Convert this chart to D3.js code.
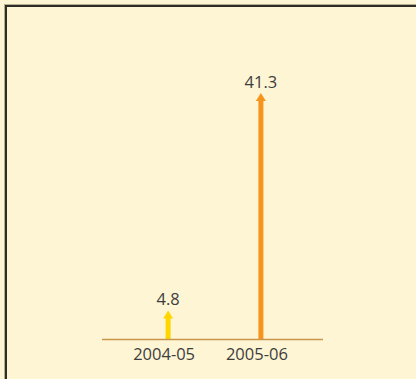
<!DOCTYPE html>
<html>
<head>
<meta charset="utf-8">
<script src="https://cdn.jsdelivr.net/npm/d3@7"></script>
<style>
  html, body { margin: 0; padding: 0; background: #fef5d4; }
  svg { display: block; }
</style>
</head>
<body>
<svg id="chart" width="416" height="379"></svg>
<script>
// Values per year
const categories = ["2004-05", "2005-06"];
const values = [4.8, 41.3];
const colors = ["#ffd600", "#f7941d"];

const W = 416, H = 379;
const svg = d3.select("#chart");

svg.append("rect").attr("width", W).attr("height", H).attr("fill", "#fef5d4");

// Framed panel: soft outer line plus dark inner line
svg.append("rect")
  .attr("x", 4.5).attr("y", 4.5).attr("width", W + 10).attr("height", H + 10)
  .attr("fill", "none").attr("stroke", "#b5ad90").attr("stroke-width", 1);
svg.append("rect")
  .attr("x", 6).attr("y", 6).attr("width", W + 10).attr("height", H + 10)
  .attr("fill", "none").attr("stroke", "#2e2c26").attr("stroke-width", 2);

const baseY = 339;
const axisX0 = 102, axisX1 = 323;

const x = d3.scalePoint().domain(categories).range([105, 324]).padding(0.68);
const y = d3.scaleLinear().domain([0, 41.3]).range([baseY, 93]);

const font = "'Open Sans', 'DejaVu Sans', sans-serif";
const fontSize = 16.5;

// Arrow marks
const shaftW = 5, headW = 10, headH = 8;
const g = svg.append("g");
categories.forEach((c, i) => {
  const cx = x(c), top = y(values[i]);
  g.append("rect")
    .attr("x", cx - shaftW / 2).attr("y", top + headH - 1)
    .attr("width", shaftW).attr("height", baseY - (top + headH - 1))
    .attr("fill", colors[i]);
  g.append("path")
    .attr("d", `M${cx - headW / 2},${top + headH} L${cx},${top} L${cx + headW / 2},${top + headH} Z`)
    .attr("fill", colors[i]);
  g.append("text")
    .attr("x", cx).attr("y", top - 5)
    .attr("text-anchor", "middle")
    .attr("font-family", font).attr("font-size", fontSize)
    .attr("fill", "#3d3d3d")
    .text(values[i]);
});

// Baseline
svg.append("line")
  .attr("x1", axisX0).attr("x2", axisX1)
  .attr("y1", baseY + 0.5).attr("y2", baseY + 0.5)
  .attr("stroke", "#c9974a").attr("stroke-width", 1.5);

// Category labels, set slightly left of each arrow
svg.append("g").selectAll("text")
  .data(categories).join("text")
  .attr("x", d => x(d) - 4).attr("y", 360)
  .attr("text-anchor", "middle")
  .attr("font-family", font).attr("font-size", fontSize)
  .attr("fill", "#3d3d3d")
  .text(d => d);
</script>
</body>
</html>
